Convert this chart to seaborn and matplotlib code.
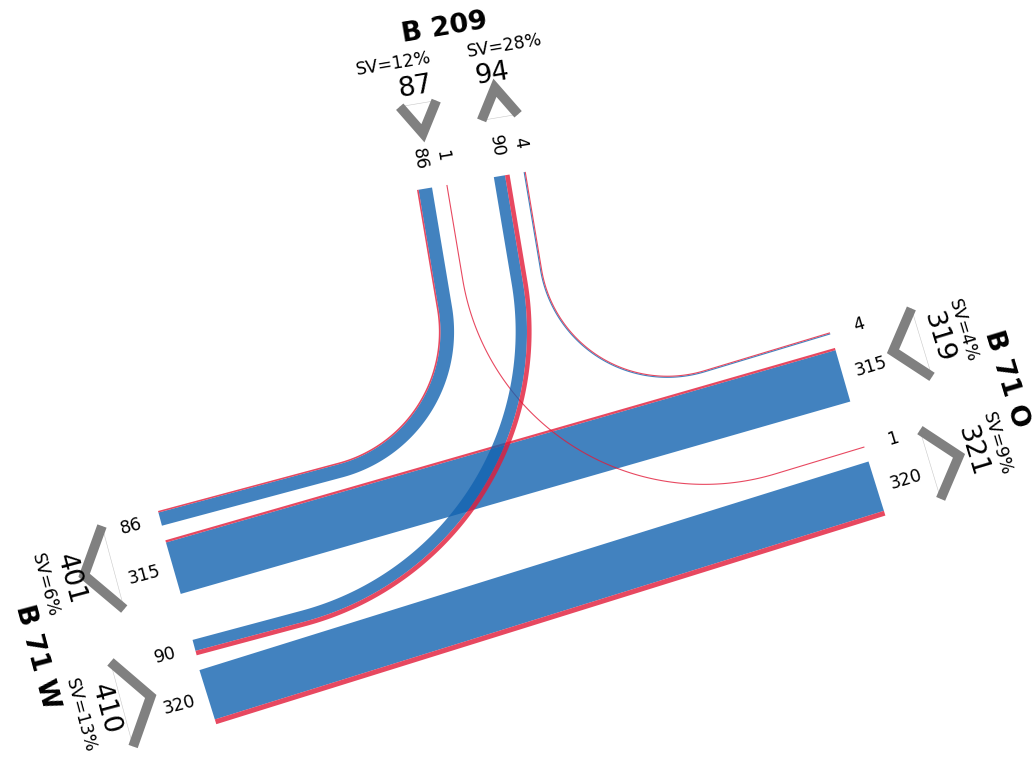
import matplotlib
matplotlib.use('Agg')
import matplotlib.pyplot as plt
import numpy as np
import seaborn as sns

# flows: origin arm, destination arm, vehicles, heavy vehicles (SV)
flow_from = ['N', 'N', 'W', 'W', 'E', 'E']
flow_to = ['W', 'E', 'N', 'E', 'N', 'W']
flow_kfz = [86, 1, 90, 320, 4, 315]
flow_sv = [9, 1, 26, 28, 1, 13]

# arms
arm_codes = ['N', 'W', 'E']
arm_names = ['B 209', 'B 71 W', 'B 71 O']
arm_sv_in = [12, 13, 4]
arm_sv_out = [28, 6, 9]

# layout (pixel space)
SCALE = 0.177          # px per vehicle
LANE_GAP = 15
MEDIAN = 47.5
MIN_STRIP = 1.1
ARM_ANCHOR = {'N': (417, 190), 'W': (158, 511), 'E': (830, 333)}
ARM_OUT_ANGLE = {'N': -99.5, 'W': 165.0, 'E': -16.8}
ARM_FLIP = {'N': 1, 'W': -1, 'E': 1}
LANE_ORDER = {
    'N': [('N', 'W'), ('N', 'E'), ('W', 'N'), ('E', 'N')],
    'W': [('N', 'W'), ('E', 'W'), ('W', 'N'), ('W', 'E')],
    'E': [('E', 'N'), ('E', 'W'), ('N', 'E'), ('W', 'E')],
}
TURN_RADIUS = {('N', 'W'): 143, ('N', 'E'): 245, ('W', 'N'): 297, ('E', 'N'): 128}
SV_SHIFT = {'N': (-18, 17), 'W': (0, 0), 'E': (0, 0)}

BLUE = '#1363b0'
RED = '#e21a38'
GRAY = '#808080'

sns.set_theme(style='white')
plt.rcParams['font.family'] = ['DejaVu Sans']
plt.rcParams['text.color'] = 'black'


def frame(code):
    ang = np.radians(ARM_OUT_ANGLE[code])
    o = np.array([np.cos(ang), np.sin(ang)])
    l = ARM_FLIP[code] * np.array([-o[1], o[0]])
    return np.array(ARM_ANCHOR[code], float), l, o


def at(code, lat, out):
    a, l, o = frame(code)
    return a + lat * l + out * o


def flow_index(pair):
    for i in range(len(flow_kfz)):
        if (flow_from[i], flow_to[i]) == pair:
            return i


# lateral lane positions per arm
lanes = {}
for code in arm_codes:
    pos = 0.0
    for k, pair in enumerate(LANE_ORDER[code]):
        if k == 2:
            pos += MEDIAN
        elif k > 0:
            pos += LANE_GAP
        w = flow_kfz[flow_index(pair)] * SCALE
        lanes[(code, pair)] = (pos, pos + w)
        pos += w


def lane_center(code, pair):
    a, b = lanes[(code, pair)]
    return (a + b) / 2


def centerline(i):
    pair = (flow_from[i], flow_to[i])
    fa, ta = pair
    s = at(fa, lane_center(fa, pair), 0)
    e = at(ta, lane_center(ta, pair), 0)
    d1 = -frame(fa)[2]
    d2 = frame(ta)[2]
    if pair not in TURN_RADIUS:
        return np.linspace(s, e, 60)
    t, u = np.linalg.solve(np.column_stack([d1, d2]), e - s)
    x = s + t * d1
    turn = np.arccos(np.clip(d1 @ d2, -1, 1))
    r = TURN_RADIUS[pair]
    tl = r * np.tan(turn / 2)
    p1, p2 = x - tl * d1, x + tl * d2
    b = d2 - d1
    b /= np.linalg.norm(b)
    c = x + b * r / np.cos(turn / 2)
    a1 = np.arctan2(*(p1 - c)[::-1])
    a2 = np.arctan2(*(p2 - c)[::-1])
    da = (a2 - a1 + np.pi) % (2 * np.pi) - np.pi
    ang = a1 + da * np.linspace(0, 1, 120)
    arc = c + r * np.column_stack([np.cos(ang), np.sin(ang)])
    return np.vstack([np.linspace(s, p1, 30, endpoint=False), arc,
                      np.linspace(p2, e, 30)[1:]])


def draw_strip(ax, pts, normal, a, b, color):
    left = pts + a * normal
    right = pts + b * normal
    poly = np.vstack([left, right[::-1]])
    ax.fill(poly[:, 0], poly[:, 1], color=color, alpha=0.8, lw=0)


fig = plt.figure(figsize=(10.32, 7.58), dpi=100)
ax = fig.add_axes([0, 0, 1, 1])
ax.set_xlim(0, 1032)
ax.set_ylim(758, 0)
ax.set_aspect('equal')
ax.axis('off')

order = sorted(range(len(flow_kfz)), key=lambda i: (flow_from[i], flow_to[i]) in TURN_RADIUS)
for i in order:
    pts = centerline(i)
    tan = np.gradient(pts, axis=0)
    tan /= np.linalg.norm(tan, axis=1)[:, None]
    normal = np.column_stack([-tan[:, 1], tan[:, 0]])  # right of travel
    car = flow_kfz[i] - flow_sv[i]
    bw = max(car * SCALE, MIN_STRIP) if car > 0 else 0
    rw = max(flow_sv[i] * SCALE, MIN_STRIP) if flow_sv[i] > 0 else 0
    left = -(bw + rw) / 2
    if bw:
        draw_strip(ax, pts, normal, left, left + bw, BLUE)
    if rw:
        draw_strip(ax, pts, normal, left + bw, left + bw + rw, RED)


def rot_deg(v):
    return np.degrees(np.arctan2(-v[1], v[0]))


def readable(a):
    while a > 90:
        a -= 180
    while a <= -90:
        a += 180
    return a


for k, code in enumerate(arm_codes):
    _, l, o = frame(code)
    text_rot = rot_deg(l)
    lane_rot = readable(rot_deg(o))
    pairs = LANE_ORDER[code]
    groups = [pairs[:2], pairs[2:]]
    for pair in pairs:
        p = at(code, lane_center(code, pair), 30)
        ax.text(p[0], p[1], str(flow_kfz[flow_index(pair)]), fontsize=12.5,
                rotation=lane_rot, rotation_mode='anchor', ha='center', va='center')
    for grp in groups:
        inbound = grp[0][0] == code
        lat0 = lanes[(code, grp[0])][0]
        lat1 = lanes[(code, grp[-1])][1]
        mid = (lat0 + lat1) / 2
        half = max((lat1 - lat0) / 2, 18.5)
        base, apex = (85, 55) if inbound else (58, 88)
        chev = np.array([at(code, mid - half, base), at(code, mid, apex),
                         at(code, mid + half, base)])
        ax.plot(chev[[0, 2], 0], chev[[0, 2], 1], color='#c8c8c8', lw=0.4)
        sns.lineplot(x=chev[:, 0], y=chev[:, 1], sort=False, estimator=None, ax=ax,
                     color=GRAY, lw=7, solid_joinstyle='miter', solid_capstyle='butt')
        total = sum(flow_kfz[flow_index(pr)] for pr in grp)
        sv = arm_sv_in[k] if inbound else arm_sv_out[k]
        shift = SV_SHIFT[code][0 if inbound else 1]
        p = at(code, mid, 102)
        ax.text(p[0], p[1], str(total), fontsize=19.5, rotation=text_rot,
                rotation_mode='anchor', ha='center', va='center')
        p = at(code, mid + shift, 128)
        ax.text(p[0], p[1], f'SV={sv}%', fontsize=12.5, rotation=text_rot,
                rotation_mode='anchor', ha='center', va='center')
    name_lat = (lanes[(code, pairs[1])][1] + lanes[(code, pairs[2])][0]) / 2
    p = at(code, name_lat, 155)
    ax.text(p[0], p[1], arm_names[k], fontsize=19.5, fontweight='bold',
            rotation=text_rot, rotation_mode='anchor', ha='center', va='center')

fig.savefig('out.png', dpi=100)
plt.close(fig)
